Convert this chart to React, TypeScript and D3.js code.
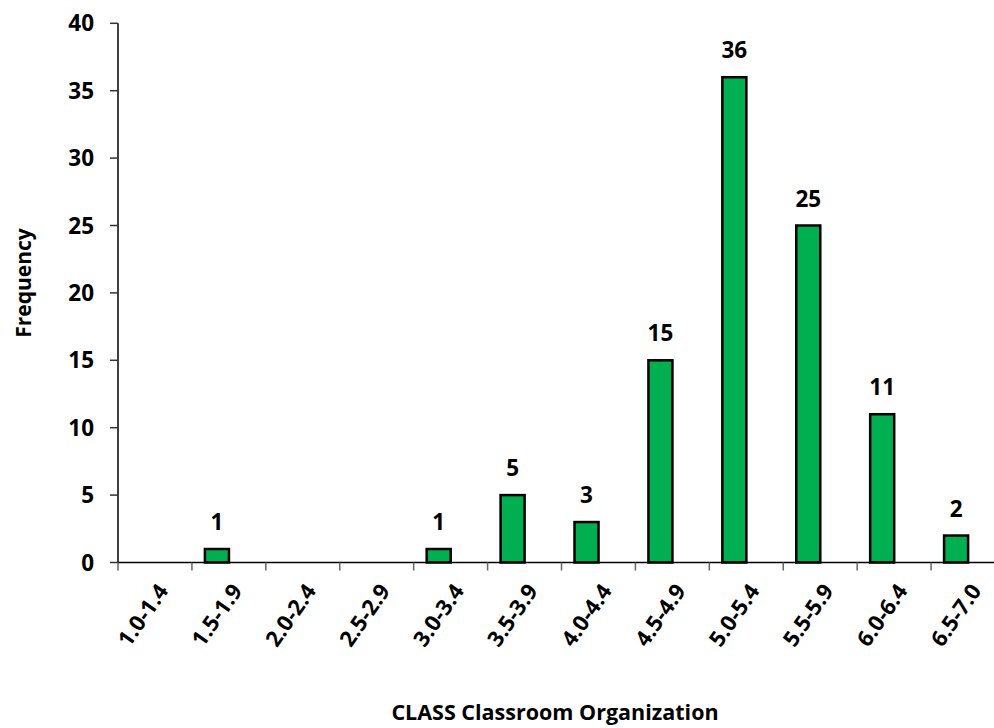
import React from "react";
import * as d3 from "d3";

const categories = ["1.0-1.4","1.5-1.9","2.0-2.4","2.5-2.9","3.0-3.4","3.5-3.9","4.0-4.4","4.5-4.9","5.0-5.4","5.5-5.9","6.0-6.4","6.5-7.0"];
const frequencies = [0,1,0,0,1,5,3,15,36,25,11,2];
const yTicks = [0,5,10,15,20,25,30,35,40];

const W = 994, H = 728;
const left = 118, right = 1005, top = 23.3, bottom = 562.5;
const FONT = "'Open Sans', sans-serif";

export default function App() {
  const x = d3.scaleBand<string>().domain(categories).range([left, right]).paddingInner(0).paddingOuter(0);
  const y = d3.scaleLinear().domain([0, 40]).range([bottom, top]);
  const bw = x.bandwidth();
  const barOff = bw * 0.176;
  const barW = bw * 0.325;
  return (
    <svg width={W} height={H} style={{ position: "absolute", left: 0, top: 0, background: "#fff" }} fontFamily={FONT}>
      <rect x={0} y={0} width={W} height={H} fill="#fff" />
      <line x1={left} x2={left} y1={top} y2={bottom} stroke="#000" strokeWidth={1.5} />
      {yTicks.map((t) => (
        <g key={t}>
          <line x1={left - 8} x2={left} y1={y(t)} y2={y(t)} stroke="#333" strokeWidth={1.5} />
          <text x={left - 24} y={y(t)} dy="0.36em" textAnchor="end" fontSize={22.5} fontWeight={700} fill="#000">{t}</text>
        </g>
      ))}
      {categories.map((c, i) => {
        const v = frequencies[i];
        if (!v) return null;
        const bx = (x(c) as number) + barOff;
        return (
          <g key={c}>
            <rect x={bx} y={y(v)} width={barW} height={bottom - y(v)} fill="#00B050" stroke="#000" strokeWidth={2.5} />
            <text x={bx + barW / 2} y={y(v) - 19} textAnchor="middle" fontSize={22.5} fontWeight={700} fill="#000">{v}</text>
          </g>
        );
      })}
      <line x1={left} x2={right} y1={bottom} y2={bottom} stroke="#000" strokeWidth={1.5} />
      {categories.map((c) => (
        <line key={"t" + c} x1={x(c) as number} x2={x(c) as number} y1={bottom} y2={bottom + 8} stroke="#666" strokeWidth={1.5} />
      ))}
      {categories.map((c) => {
        const cx = (x(c) as number) + bw / 2 + 8;
        const cy = bottom + 24;
        return (
          <text key={"l" + c} x={cx} y={cy} transform={`rotate(-55, ${cx}, ${cy})`} textAnchor="end" fontSize={22} fontWeight={700} fill="#000" dy="0.35em">{c}</text>
        );
      })}
      <text x={555} y={720} textAnchor="middle" fontSize={21.5} fontWeight={700} fill="#000">CLASS Classroom Organization</text>
      <text x={0} y={0} transform={`translate(31, 283) rotate(-90)`} textAnchor="middle" fontSize={21} fontWeight={700} fill="#000">Frequency</text>
    </svg>
  );
}
